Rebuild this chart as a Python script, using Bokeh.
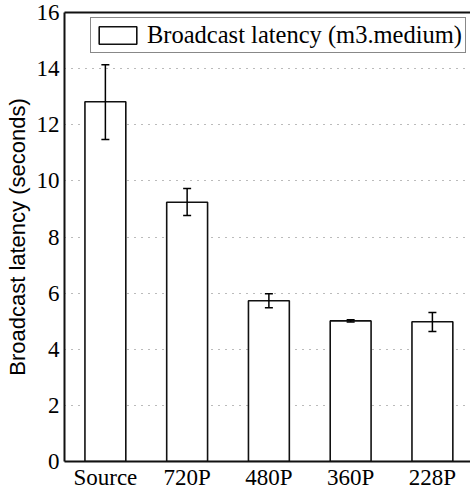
from bokeh.plotting import figure
from bokeh.models import (ColumnDataSource, Whisker, TeeHead, FixedTicker,
                          LinearAxis, Range1d, Legend, LegendItem)
from bokeh.embed import file_html
from bokeh.resources import INLINE

categories = ["Source", "720P", "480P", "360P", "228P"]
latency = [12.82, 9.24, 5.73, 5.01, 4.98]
err_upper = [14.14, 9.73, 5.98, 5.05, 5.31]
err_lower = [11.47, 8.77, 5.48, 4.97, 4.63]
y_ticks = [0, 2, 4, 6, 8, 10, 12, 14, 16]

SERIF = "Liberation Serif"
SANS = "Liberation Sans"

xs = list(range(len(categories)))
src = ColumnDataSource(dict(x=xs, top=latency, upper=err_upper, lower=err_lower))

p = figure(width=470, height=494, output_backend="svg", toolbar_location=None,
           x_range=Range1d(-0.5, 4.466), y_range=Range1d(0, 16),
           min_border_left=64, min_border_right=0, min_border_top=12,
           min_border_bottom=33)

p.outline_line_color = None
p.background_fill_color = "white"
p.border_fill_color = "white"

bars = p.vbar(x="x", top="top", width=0.5, bottom=0, source=src,
              fill_color="white", line_color="#111111", line_width=1.6)

w = Whisker(base="x", upper="upper", lower="lower", source=src, level="overlay",
            line_color="black", line_width=1.5,
            upper_head=TeeHead(size=8, line_color="black", line_width=1.5),
            lower_head=TeeHead(size=8, line_color="black", line_width=1.5))
p.add_layout(w)

# grid
p.xgrid.visible = False
p.ygrid.ticker = FixedTicker(ticks=y_ticks[1:-1])
p.ygrid.grid_line_color = "#777777"
p.ygrid.grid_line_dash = "1 6"
p.ygrid.grid_line_width = 1

# axes
for ax in (p.xaxis[0], p.yaxis[0]):
    ax.axis_line_width = 2
    ax.axis_line_color = "#111111"
    ax.major_tick_line_color = None
    ax.minor_tick_line_color = None
    ax.major_tick_out = 0
    ax.major_tick_in = 0
    ax.minor_tick_out = 0
    ax.minor_tick_in = 0
    ax.major_label_text_font = SERIF
    ax.major_label_text_font_size = "23px"
    ax.major_label_text_color = "black"

p.xaxis.ticker = FixedTicker(ticks=xs)
p.xaxis.major_label_overrides = {i: c for i, c in enumerate(categories)}
p.xaxis.major_label_standoff = 3

p.yaxis.ticker = FixedTicker(ticks=y_ticks)
p.yaxis.major_label_standoff = 5

# separate left axis that carries only the axis title (sans-serif)
label_axis = LinearAxis(axis_line_color=None,
                        major_tick_line_color=None, minor_tick_line_color=None,
                        major_tick_out=0, major_tick_in=0,
                        minor_tick_out=0, minor_tick_in=0,
                        major_label_standoff=0,
                        ticker=FixedTicker(ticks=[]),
                        axis_label="Broadcast latency (seconds)",
                        axis_label_text_font=SANS,
                        axis_label_text_font_size="22px",
                        axis_label_text_font_style="normal",
                        axis_label_text_color="black",
                        axis_label_standoff=4)
p.add_layout(label_axis, "left")

top_axis = LinearAxis(axis_line_width=2, axis_line_color="#111111",
                      major_tick_line_color=None, minor_tick_line_color=None,
                      major_tick_out=0, major_tick_in=0,
                      minor_tick_out=0, minor_tick_in=0,
                      major_label_standoff=0,
                      ticker=FixedTicker(ticks=[]))
p.add_layout(top_axis, "above")

legend = Legend(items=[LegendItem(label="Broadcast latency (m3.medium)", renderers=[bars])],
                location=(26, 408), orientation="vertical",
                label_text_font=SERIF, label_text_font_size="24.5px",
                label_text_color="black", label_height=22,
                glyph_width=47, glyph_height=22, label_standoff=6,
                padding=3, margin=0, spacing=0,
                border_line_color="#111111", border_line_width=1.5,
                background_fill_alpha=1.0)
p.add_layout(legend, "center")

open("out.html", "w").write(file_html(p, INLINE))
